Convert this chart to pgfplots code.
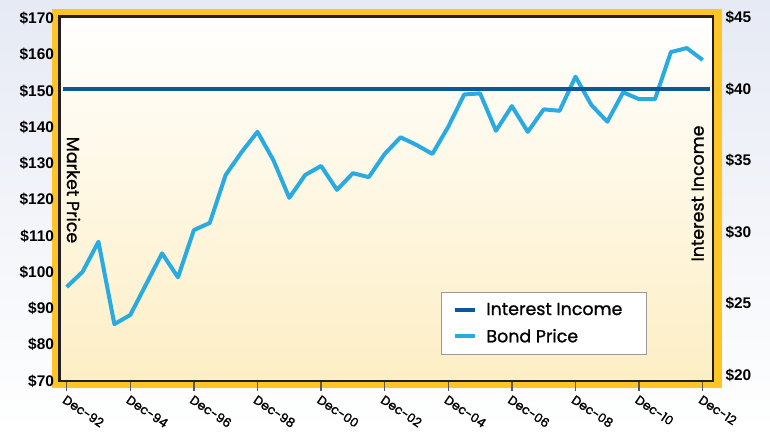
\documentclass[border=0pt]{standalone}
\usepackage{pgfplots}
\pgfplotsset{compat=1.18}
\usepackage{fontspec}
\setmainfont{Liberation Sans}
\newfontfamily\gotham{Poppins}[FakeBold=1.1]
\newfontfamily\gothamt{Poppins}[FakeBold=1.6]
\definecolor{bgtop}{RGB}{230,234,244}
\definecolor{frameY}{RGB}{255,196,37}
\definecolor{cream}{RGB}{253,238,196}
\definecolor{bondC}{RGB}{41,171,226}
\definecolor{incC}{RGB}{10,88,154}
\definecolor{borderC}{RGB}{35,31,32}

\pgfplotstableread{
x y
0 95.9
1 100.1
2 108.4
3 85.7
4 88.2
5 96.7
6 105.2
7 98.6
8 111.6
9 113.6
10 126.8
11 133.1
12 138.7
13 130.9
14 120.5
15 126.8
16 129.3
17 122.7
18 127.3
19 126.2
20 132.6
21 137.2
22 135.1
23 132.6
24 140.1
25 149.0
26 149.3
27 139.0
28 145.8
29 138.7
30 144.9
31 144.5
32 153.9
33 146.1
34 141.5
35 149.6
36 147.7
37 147.7
38 160.7
39 161.8
40 158.5
}\bondtable

\begin{document}
\begin{tikzpicture}[x=1bp,y=1bp]
\useasboundingbox (0,0) rectangle (770,431);
\shade[top color=bgtop,bottom color=white] (0,0) rectangle (770,431);
\fill[frameY] (52,43) rectangle (722,422);
\begin{axis}[
  at={(59.5bp,50bp)}, anchor=south west,
  scale only axis, width=653.5bp, height=364.5bp,
  xmin=-0.45, xmax=40.65, ymin=70, ymax=170.5,
  axis background/.style={shade, top color=white, bottom color=cream},
  axis line style={draw=borderC, line width=2.5bp},
  xtick={0,4,...,40},
  xticklabels={Dec-92,Dec-94,Dec-96,Dec-98,Dec-00,Dec-02,Dec-04,Dec-06,Dec-08,Dec-10,Dec-12},
  xtick pos=bottom, tick align=outside,
  major tick length=10bp,
  x tick style={draw=black!65, line width=1.3bp},
  xticklabel style={rotate=-34, anchor=north west, font=\gothamt\fontsize{12.5}{12.5}\selectfont, inner sep=0bp, xshift=2bp, yshift=-2.5bp},
  ytick={70,80,...,170},
  ytick pos=left,
  y tick style={draw=none},
  yticklabel={\$\pgfmathprintnumber[assume math mode=true]{\tick}},
  yticklabel style={font=\fontsize{15.5}{16}\selectfont\bfseries, xshift=8bp},
  clip=false,
]
\addplot[color=bondC, line width=4bp, line join=round] table[x=x,y=y] {\bondtable};
\end{axis}
\begin{axis}[
  at={(59.5bp,50bp)}, anchor=south west,
  scale only axis, width=653.5bp, height=364.5bp,
  xmin=-0.45, xmax=40.65, ymin=19.58, ymax=45.07,
  axis x line=none,
  axis y line*=right,
  y axis line style={draw=none},
  ytick={20,25,...,45},
  y tick style={draw=none},
  major tick length=0bp,
  yticklabel={\$\pgfmathprintnumber[assume math mode=true]{\tick}},
  yticklabel style={font=\fontsize{15.5}{16}\selectfont\bfseries, xshift=9bp},
  legend style={at={(0.5838,0.2442)}, anchor=north west, draw=black!40, line width=0.8bp, fill=white,
    font=\gotham\fontsize{17.5}{17.5}\selectfont, inner xsep=12bp, inner ysep=8.5bp, row sep=8.5bp,
    /tikz/every odd column/.append style={column sep=7bp}},
  legend cell align=left,
  legend image code/.code={\draw[#1] (0bp,0bp) -- (20bp,0bp);},
  clip=false,
]
\addplot[color=incC, line width=4bp] coordinates {(-0.23,40) (40.46,40)};
\addlegendentry{Interest Income\rule{10bp}{0pt}}
\addlegendimage{color=bondC, line width=4bp}
\addlegendentry{Bond Price}
\end{axis}
\node[rotate=-90, font=\gotham\fontsize{17.5}{17.5}\selectfont] at (73.5,241) {Market Price};
\node[rotate=90, font=\gotham\fontsize{17.5}{17.5}\selectfont] at (697.7,237.5) {Interest Income};
\end{tikzpicture}
\end{document}
